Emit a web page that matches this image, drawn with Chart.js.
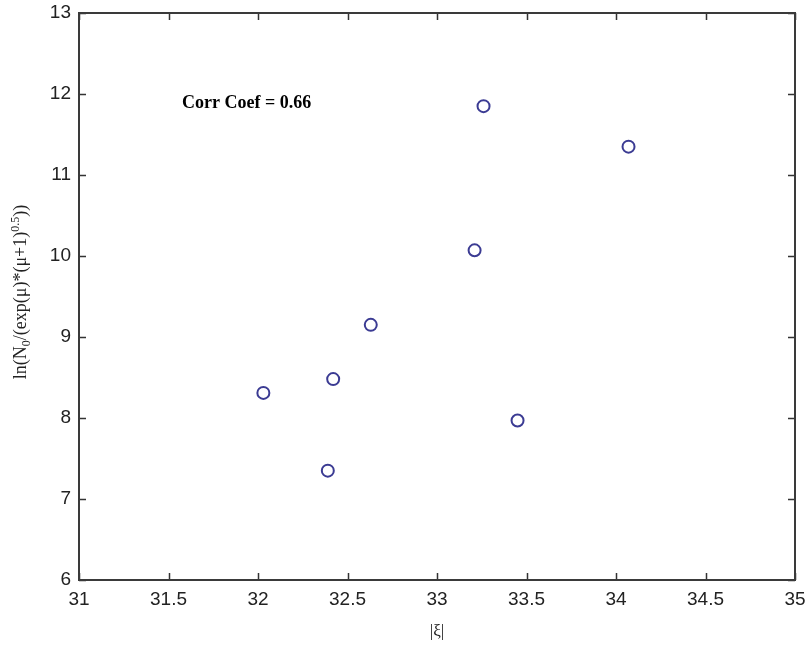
<!DOCTYPE html>
<html>
<head>
<meta charset="utf-8">
<script src="https://cdn.jsdelivr.net/npm/chart.js@4"></script>
<style>
  body { margin: 0; background: #fff; }
</style>
</head>
<body>
<canvas id="myChart" width="807" height="649"></canvas>
<script>
// |xi| vs ln(N0/(exp(mu)*(mu+1)^0.5))
const xiValues = [32.03, 32.39, 32.42, 32.63, 33.21, 33.26, 33.45, 34.07];
const lnValues = [8.31, 7.35, 8.48, 9.15, 10.07, 11.85, 7.97, 11.35];

const xTicks = [31, 31.5, 32, 32.5, 33, 33.5, 34, 34.5, 35];
const yTicks = [6, 7, 8, 9, 10, 11, 12, 13];

const xTitle = '|ξ|';
const yTitleParts = [
    ['ln(N', 0],
    ['0', 1],
    ['/(exp(μ)*(μ+1)', 0],
    ['0.5', -1],
    ['))', 0]
];
const corrText = 'Corr Coef = 0.66';
const corrPos = [31.575, 11.88];

const boxPlugin = {
    id: 'matlabBox',
    afterDatasetsDraw(chart) {
        const ctx = chart.ctx;
        const a = chart.chartArea;
        const sx = chart.scales.x, sy = chart.scales.y;
        ctx.save();

        // inward ticks on all four sides
        ctx.strokeStyle = '#333';
        ctx.lineWidth = 1.5;
        ctx.beginPath();
        xTicks.forEach(v => {
            const px = Math.round(sx.getPixelForValue(v)) + 0.5;
            ctx.moveTo(px, a.bottom); ctx.lineTo(px, a.bottom - 7);
            ctx.moveTo(px, a.top); ctx.lineTo(px, a.top + 7);
        });
        yTicks.forEach(v => {
            const py = Math.round(sy.getPixelForValue(v)) + 0.5;
            ctx.moveTo(a.left, py); ctx.lineTo(a.left + 7, py);
            ctx.moveTo(a.right, py); ctx.lineTo(a.right - 7, py);
        });
        ctx.stroke();

        // box
        ctx.strokeStyle = '#3a3a3a';
        ctx.lineWidth = 2;
        ctx.strokeRect(a.left, a.top, a.right - a.left, a.bottom - a.top);

        // annotation
        ctx.fillStyle = '#000';
        ctx.font = 'bold 18px "Liberation Serif"';
        ctx.textAlign = 'left';
        ctx.textBaseline = 'middle';
        ctx.fillText(corrText, sx.getPixelForValue(corrPos[0]), sy.getPixelForValue(corrPos[1]));

        // x title
        ctx.font = '17px "Liberation Serif"';
        ctx.textAlign = 'center';
        ctx.fillStyle = '#222';
        ctx.fillText(xTitle, (a.left + a.right) / 2, 632);

        // y title with sub/superscripts
        const big = '18px "Liberation Serif"', small = '12px "Liberation Serif"';
        let total = 0;
        yTitleParts.forEach(p => {
            ctx.font = p[1] ? small : big;
            total += ctx.measureText(p[0]).width;
        });
        ctx.translate(26, 292);
        ctx.rotate(-Math.PI / 2);
        ctx.textAlign = 'left';
        ctx.textBaseline = 'alphabetic';
        let x = -total / 2;
        yTitleParts.forEach(p => {
            ctx.font = p[1] ? small : big;
            ctx.fillText(p[0], x, p[1] > 0 ? 4 : (p[1] < 0 ? -7 : 0));
            x += ctx.measureText(p[0]).width;
        });
        ctx.restore();
    }
};

new Chart('myChart', {
    type: 'scatter',
    data: {
        datasets: [{
            data: xiValues.map((v, i) => ({ x: v, y: lnValues[i] })),
            pointStyle: 'circle',
            pointRadius: 6,
            pointHoverRadius: 6,
            pointBorderWidth: 2,
            borderColor: '#3b3b93',
            backgroundColor: 'rgba(0,0,0,0)'
        }]
    },
    options: {
        responsive: false,
        animation: false,
        events: [],
        layout: { padding: { top: 13, right: 12, left: 0, bottom: 0 } },
        plugins: {
            legend: { display: false },
            tooltip: { enabled: false }
        },
        scales: {
            x: {
                type: 'linear',
                min: 31,
                max: 35,
                afterBuildTicks: axis => { axis.ticks = xTicks.map(v => ({ value: v })); },
                afterFit: scale => {
                    scale.height = 69;
                    scale.paddingLeft = 0;
                    scale.paddingRight = 0;
                },
                grid: { display: false, drawTicks: false },
                border: { display: false },
                ticks: {
                    padding: 8,
                    maxRotation: 0,
                    color: '#222',
                    callback: v => String(v),
                    font: { family: 'Liberation Sans', size: 19 }
                }
            },
            y: {
                min: 6,
                max: 13,
                afterBuildTicks: axis => { axis.ticks = yTicks.map(v => ({ value: v })); },
                afterFit: scale => {
                    scale.width = 79;
                    scale.paddingTop = 0;
                    scale.paddingBottom = 0;
                },
                grid: { display: false, drawTicks: false },
                border: { display: false },
                ticks: {
                    padding: 8,
                    color: '#222',
                    callback: v => String(v),
                    font: { family: 'Liberation Sans', size: 19 }
                }
            }
        }
    },
    plugins: [boxPlugin]
});
</script>
</body>
</html>
